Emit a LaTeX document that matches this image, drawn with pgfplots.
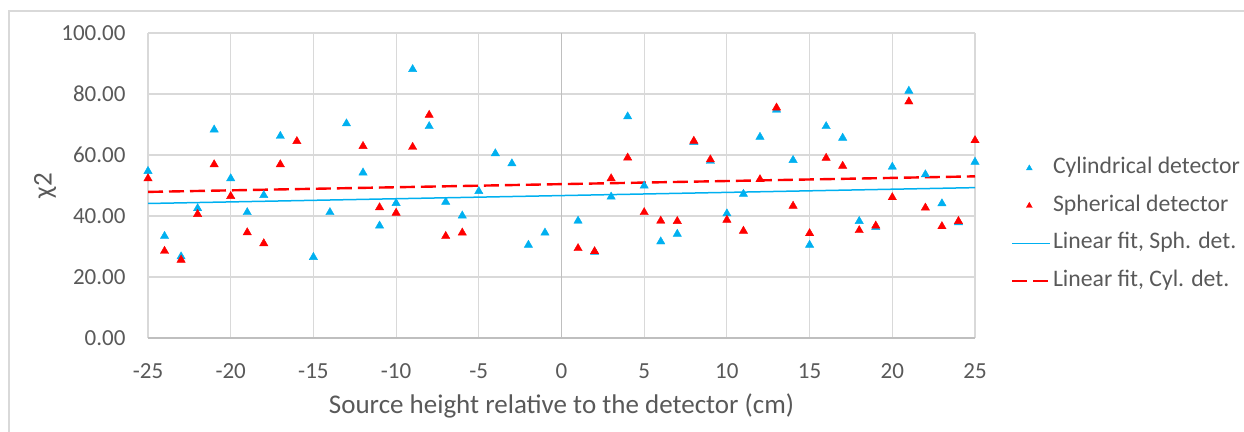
\documentclass[border=0pt]{standalone}
\usepackage{pgfplots}
\pgfplotsset{compat=1.18}
\usepackage{fontspec}
\setmainfont{Carlito}

\definecolor{cylblue}{HTML}{00B0F0}
\definecolor{sphred}{HTML}{FF0000}
\definecolor{gridgrey}{HTML}{D9D9D9}
\definecolor{axisgrey}{HTML}{BFBFBF}
\definecolor{textgrey}{HTML}{595959}

% legend images: small marker, or a 38pt line
\pgfplotsset{
  legmark/.style={legend image code/.code={\draw[##1, mark size=3.4pt] plot coordinates {(17pt,0pt)};}},
  legline/.style={legend image code/.code={\draw[##1] (0pt,0pt) -- (38pt,0pt);}},
}

% chi^2 per source height, cylindrical detector
\pgfplotstableread{
h chi
-25 54.7
-24 33.4
-23 26.7
-22 42.5
-21 68.3
-20 52.3
-19 41.2
-18 46.8
-17 66.2
-15 26.5
-14 41.2
-13 70.3
-12 54.2
-11 36.8
-10 44.2
-9 88.1
-8 69.4
-7 44.6
-6 40.1
-5 48.1
-4 60.5
-3 57.2
-2 30.5
-1 34.5
1 38.4
2 28.2
3 46.3
4 72.6
5 49.9
6 31.6
7 34.1
8 64.2
9 58.0
10 40.8
11 47.2
12 65.9
13 74.8
14 58.3
15 30.5
16 69.4
17 65.6
18 38.3
19 36.3
20 56.1
21 81.0
22 53.6
23 44.1
24 37.9
25 57.7
}\cyltable

% chi^2 per source height, spherical detector
\pgfplotstableread{
h chi
-25 52.3
-24 28.5
-23 25.6
-22 40.6
-21 56.9
-20 46.5
-19 34.6
-18 31.0
-17 56.9
-16 64.5
-12 62.9
-11 42.8
-10 41.0
-9 62.6
-8 73.1
-7 33.4
-6 34.5
1 29.4
2 28.4
3 52.3
4 59.1
5 41.2
6 38.4
7 38.3
8 64.6
9 58.5
10 38.7
11 35.1
12 52.0
13 75.5
14 43.3
15 34.3
16 59.0
17 56.4
18 35.3
19 36.8
20 46.1
21 77.5
22 42.7
23 36.6
24 38.3
25 64.8
}\sphtable

\begin{document}
\begin{tikzpicture}[x=1pt,y=1pt]
\useasboundingbox (0,0) rectangle (1244,431);
% chart frame
\draw[gridgrey, line width=1.5pt] (9,-5) -- (9,420) -- (1250,420);
\begin{axis}[
  at={(148pt,93pt)}, anchor=south west,
  width=827pt, height=305pt, scale only axis,
  xmin=-25, xmax=25, ymin=0, ymax=100,
  xtick={-25,-20,...,25}, ytick={0,20,...,100},
  grid=major,
  major grid style={gridgrey, line width=1.1pt},
  axis line style={draw=none},
  tick style={draw=none},
  /pgf/number format/assume math mode=true,
  ticklabel style={font=\fontsize{23}{25}\selectfont, text=textgrey},
  yticklabel style={/pgf/number format/.cd, fixed, fixed zerofill, precision=2, /tikz/.cd, xshift=-19pt},
  xticklabel style={yshift=-22pt},
  xlabel={Source height relative to the detector (cm)},
  ylabel={χ2},
  label style={font=\fontsize{27}{29}\selectfont, text=textgrey},
  xlabel style={at={(axis description cs:0.5,-0.223)}, anchor=center},
  ylabel style={at={(axis description cs:-0.1245,0.5)}, anchor=center},
  legend style={at={(1.0398,0.603)}, anchor=north west, draw=none, fill=none,
    font=\fontsize{23.7}{25}\selectfont, text=textgrey, row sep=13.5pt, column sep=0pt,
    nodes={inner sep=1.5pt, text height=16pt, text depth=5pt, anchor=west}},
  legend cell align=left,
]
\draw[axisgrey, line width=1.3pt] (axis cs:-25,0) -- (axis cs:25,0);
\draw[axisgrey, line width=1.3pt] (axis cs:0,0) -- (axis cs:0,100);

\addplot[only marks, mark=triangle*, mark size=4.8pt, color=cylblue, legmark]
  table[x=h, y=chi] {\cyltable};
\addlegendentry{Cylindrical detector}

\addplot[only marks, mark=triangle*, mark size=4.8pt, color=sphred, legmark]
  table[x=h, y=chi] {\sphtable};
\addlegendentry{Spherical detector}

\addplot[no marks, color=cylblue, line width=1.5pt, legline]
  coordinates {(-25,44.1) (25,49.3)};
\addlegendentry{Linear fit, Sph. det.}

\addplot[no marks, color=sphred, line width=2.4pt, dash pattern=on 15pt off 6pt, legline]
  coordinates {(-25,47.9) (25,53.0)};
\addlegendentry{Linear fit, Cyl. det.}
\end{axis}
\end{tikzpicture}
\end{document}
